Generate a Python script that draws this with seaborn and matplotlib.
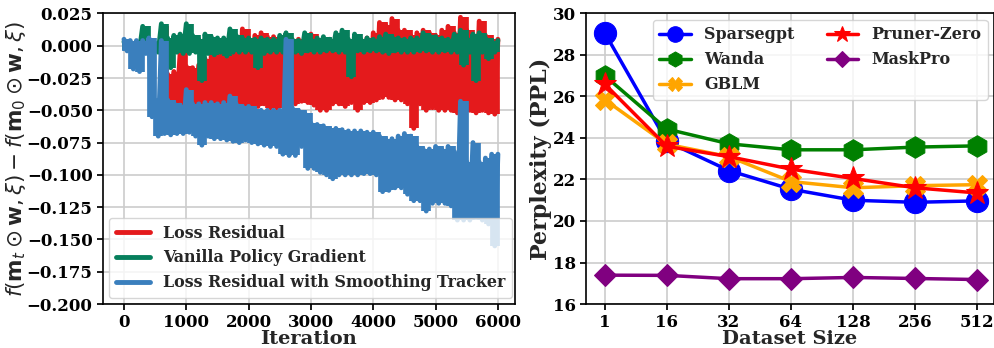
import numpy as np
import pandas as pd
import matplotlib
matplotlib.use("Agg")
import matplotlib.pyplot as plt
import seaborn as sns

# ---- left panel: residual traces, read per 100-iteration bin (top / bottom of the band)
bin_start = np.arange(0, 6000, 100)

loss_hi = [None] * 6 + [
    0.015, -0.022, -0.020, -0.006, -0.016, -0.017, -0.015, -0.010, -0.008, -0.006,
    -0.005, -0.004, -0.003, 0.013, 0.004, 0.008, 0.010, 0.007, 0.007, 0.005,
    0.006, 0.003, 0.005, 0.004, 0.009, 0.004, 0.004, 0.002, 0.004, 0.005,
    0.004, 0.004, 0.003, 0.006, 0.010, 0.018, 0.016, 0.021, 0.012, 0.012,
    0.008, 0.010, 0.012, 0.010, 0.008, 0.012, 0.015, 0.010, 0.022, 0.012,
    0.008, 0.019, 0.008, 0.005]
loss_lo = [None] * 6 + [
    -0.045, -0.045, -0.046, -0.046, -0.046, -0.045, -0.045, -0.046, -0.045, -0.045,
    -0.046, -0.044, -0.046, -0.046, -0.046, -0.047, -0.045, -0.048, -0.048, -0.047,
    -0.044, -0.045, -0.043, -0.044, -0.046, -0.050, -0.050, -0.045, -0.045, -0.047,
    -0.044, -0.050, -0.044, -0.044, -0.042, -0.040, -0.040, -0.042, -0.042, -0.045,
    -0.064, -0.045, -0.050, -0.048, -0.050, -0.050, -0.050, -0.052, -0.050, -0.050,
    -0.052, -0.050, -0.052, -0.053]

vanilla_hi = [
    0.003, 0.003, 0.003, 0.015, 0.003, 0.002, 0.017, 0.006, 0.008, 0.009,
    0.017, 0.008, 0.005, 0.009, 0.007, 0.006, 0.006, 0.013, 0.008, 0.006,
    0.006, 0.005, 0.006, 0.005, 0.005, 0.008, 0.010, 0.005, 0.004, 0.010,
    0.005, 0.006, 0.007, 0.005, 0.010, 0.012, 0.005, 0.009, 0.005, 0.006,
    0.005, 0.007, 0.009, 0.007, 0.006, 0.005, 0.006, 0.006, 0.010, 0.008,
    0.007, 0.006, 0.005, 0.009, 0.012, 0.006, 0.009, 0.010, 0.006, 0.004]
vanilla_lo = [
    -0.003, -0.003, -0.003, -0.003, -0.003, -0.005, -0.006, -0.017, -0.005, -0.006,
    -0.006, -0.005, -0.027, -0.006, -0.007, -0.005, -0.008, -0.005, -0.005, -0.005,
    -0.005, -0.017, -0.006, -0.005, -0.005, -0.005, -0.018, -0.005, -0.006, -0.004,
    -0.005, -0.005, -0.004, -0.004, -0.005, -0.005, -0.024, -0.004, -0.005, -0.004,
    -0.004, -0.005, -0.006, -0.004, -0.005, -0.005, -0.005, -0.004, -0.004, -0.005,
    -0.005, -0.004, -0.005, -0.005, -0.015, -0.005, -0.027, -0.005, -0.010, -0.005]

tracker_hi = [
    0.005, 0.004, 0.004, 0.004, 0.006, -0.042, 0.004, -0.042, -0.044, -0.046,
    -0.034, -0.045, -0.045, -0.044, -0.044, -0.045, -0.044, -0.039, -0.045, -0.047,
    -0.047, -0.049, -0.050, -0.050, -0.050, -0.050, 0.005, -0.048, -0.050, -0.052,
    -0.060, -0.061, -0.062, -0.064, -0.064, -0.065, -0.066, -0.066, -0.066, -0.067,
    -0.067, -0.070, -0.072, -0.072, -0.070, -0.068, -0.070, -0.078, -0.080, -0.080,
    -0.078, -0.080, -0.078, -0.082, -0.043, -0.090, -0.075, -0.090, -0.087, -0.084]
tracker_lo = [
    -0.004, -0.018, -0.020, -0.006, -0.055, -0.070, -0.068, -0.069, -0.068, -0.068,
    -0.067, -0.070, -0.077, -0.070, -0.072, -0.072, -0.073, -0.074, -0.075, -0.073,
    -0.075, -0.076, -0.077, -0.078, -0.078, -0.084, -0.085, -0.085, -0.078, -0.095,
    -0.095, -0.098, -0.100, -0.103, -0.100, -0.100, -0.100, -0.100, -0.099, -0.099,
    -0.100, -0.113, -0.112, -0.110, -0.110, -0.115, -0.120, -0.120, -0.128, -0.122,
    -0.122, -0.122, -0.124, -0.135, -0.135, -0.135, -0.133, -0.135, -0.138, -0.155]

# ---- right panel: perplexity vs dataset size
dataset_sizes = ["1", "16", "32", "64", "128", "256", "512"]
sparsegpt = [29.07, 23.83, 22.43, 21.53, 21.0, 20.9, 20.97]
wanda = [27.0, 24.43, 23.72, 23.43, 23.43, 23.56, 23.62]
gblm = [25.85, 23.7, 23.1, 21.9, 21.6, 21.7, 21.75]
pruner_zero = [26.6, 23.6, 23.1, 22.5, 22.05, 21.6, 21.35]
maskpro = [17.39, 17.38, 17.22, 17.22, 17.28, 17.23, 17.18]


def zigzag(hi, lo):
    # alternate top / bottom of each bin so the trace looks like the noisy band
    xs, ys = [], []
    for s, h, l in zip(bin_start, hi, lo):
        if h is None:
            continue
        xs += [s, s + 50]
        ys += [h, l]
    xs.append(6000)
    ys.append(ys[-2])
    return pd.DataFrame({"Iteration": xs, "value": ys})


sns.set_theme(style="whitegrid", rc={
    "axes.edgecolor": "black", "axes.linewidth": 1.2,
    "grid.color": "#cccccc", "grid.linewidth": 1.2,
    "xtick.bottom": True, "ytick.left": True,
    "xtick.major.size": 4, "ytick.major.size": 4,
    "xtick.color": "black", "ytick.color": "black",
})
plt.rcParams["font.family"] = ["DejaVu Serif"]
plt.rcParams["mathtext.fontset"] = "dejavusans"

fig = plt.figure(figsize=(9.95, 3.48), dpi=100)
ax1 = fig.add_axes([0.1035, 0.1264, 0.414, 0.835])
ax2 = fig.add_axes([0.589, 0.1264, 0.41, 0.835])

traces = [
    ("Loss Residual", loss_hi, loss_lo, "#e41a1c"),
    ("Vanilla Policy Gradient", vanilla_hi, vanilla_lo, "#067f5c"),
    ("Loss Residual with Smoothing Tracker", tracker_hi, tracker_lo, "#3a7fbd"),
]
for k, (name, hi, lo, col) in enumerate(traces):
    df = zigzag(hi, lo)
    sns.lineplot(data=df, x="Iteration", y="value", ax=ax1, color=col,
                 linewidth=3.5, label=name, estimator=None, sort=False,
                 zorder=3 + 2 * k)
    # solid band between the bin's bottom and top, drawn as vertical strokes
    keep = [i for i, h in enumerate(hi) if h is not None]
    tops = [hi[i] for i in keep]
    bots = [lo[i] for i in keep]
    ax1.vlines(bin_start[keep] + 50, bots, tops, colors=col, linewidth=7,
               zorder=3 + 2 * k)

ax1.set_xlim(-337, 6273)
ax1.set_ylim(-0.2, 0.025)
ax1.set_yticks(np.arange(-0.2, 0.0251, 0.025))
ax1.set_xticks(np.arange(0, 6001, 1000))
ax1.tick_params(labelsize=12)
for t in ax1.get_xticklabels() + ax1.get_yticklabels():
    t.set_fontweight("bold")
ax1.set_xlabel("Iteration", fontsize=14, fontweight="bold", labelpad=-1)
ax1.set_ylabel(r"$f(\mathbf{m}_t \odot \mathbf{w}, \xi) - f(\mathbf{m}_0 \odot \mathbf{w}, \xi)$",
               fontsize=15.5, labelpad=-1)
leg1 = ax1.legend(loc="lower left", prop={"weight": "bold", "size": 11.4},
                  framealpha=0.8, borderaxespad=0.4, handlelength=2.2)
leg1.set_zorder(20)

methods = [
    ("Sparsegpt", sparsegpt, "blue", "o", 16),
    ("Wanda", wanda, "green", "h", 15.5),
    ("GBLM", gblm, "orange", "X", 14),
    ("Pruner-Zero", pruner_zero, "red", "*", 17),
    ("MaskPro", maskpro, "purple", "D", 11),
]
xpos = np.arange(len(dataset_sizes))
for name, vals, col, mk, ms in methods:
    sns.lineplot(x=xpos, y=vals, ax=ax2, color=col, marker=mk, markersize=ms,
                 markeredgecolor=col, linewidth=2.5, label=name)

ax2.set_xticks(xpos)
ax2.set_xticklabels(dataset_sizes)
ax2.set_xlim(-0.3, 6.27)
ax2.set_ylim(16, 30)
ax2.set_yticks(np.arange(16, 31, 2))
ax2.tick_params(labelsize=12)
for t in ax2.get_xticklabels() + ax2.get_yticklabels():
    t.set_fontweight("bold")
ax2.set_xlabel("Dataset Size", fontsize=14, fontweight="bold", labelpad=-1)
ax2.set_ylabel("Perplexity (PPL)", fontsize=16, fontweight="bold", labelpad=0)
ax2.legend(loc="upper right", ncol=2, prop={"weight": "bold", "size": 11.5},
           markerscale=0.7, framealpha=0.8, borderaxespad=0.4, columnspacing=2.0)

fig.savefig("out.png", dpi=100)
